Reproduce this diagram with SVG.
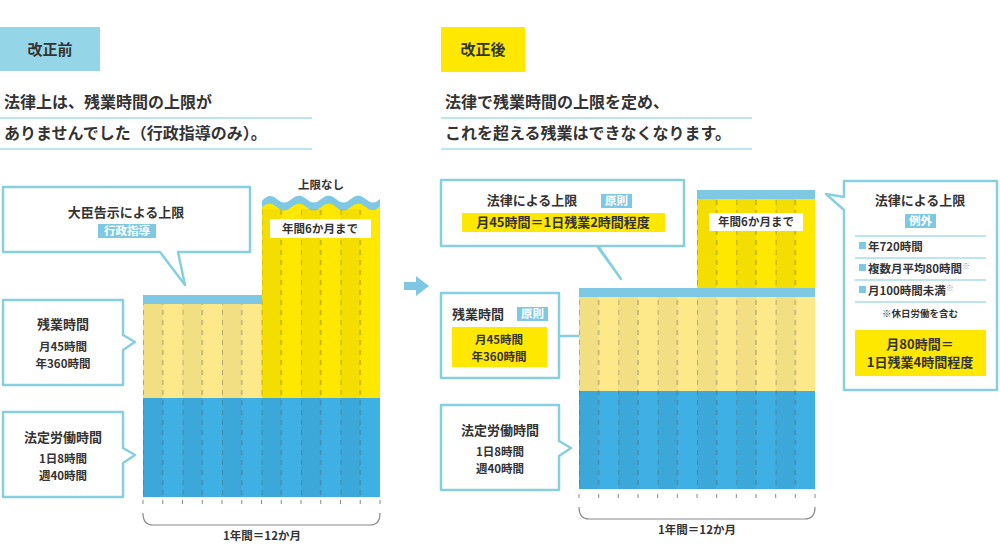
<svg xmlns="http://www.w3.org/2000/svg" width="1000" height="548" viewBox="0 0 1000 548">
<style>
text{font-family:"Noto Sans CJK JP","Noto Sans",sans-serif;font-weight:bold;fill:#333}
.c{text-anchor:middle}
.t{font-size:13px}
.s{font-size:11.5px}
.call{fill:#fff;stroke:#86cfdf;stroke-width:2.5;stroke-linejoin:round}
.tag{fill:#7fc8e4}
.tagt{fill:#fff;font-size:11.5px;text-anchor:middle}
.yb{fill:#ffe800}
.ul{stroke:#a7dcea;stroke-width:1.5}
.sep{stroke:#a7dcea;stroke-width:1.5}
.tick{stroke:#888;stroke-width:1}
.brace{fill:none;stroke:#888;stroke-width:1.2}
</style>
<defs>
<pattern id="pL" x="143" y="0" width="39.5" height="10" patternUnits="userSpaceOnUse">
<rect x="0" y="0" width="19.75" height="10" fill="#000" opacity="0.045"/>
<line x1="19.75" y1="0" x2="19.75" y2="5" stroke="#555" stroke-opacity="0.55"/>
<line x1="0.2" y1="0" x2="0.2" y2="5" stroke="#555" stroke-opacity="0.55"/>
</pattern>
<pattern id="pR" x="579" y="0" width="39.33" height="10" patternUnits="userSpaceOnUse">
<rect x="0" y="0" width="19.67" height="10" fill="#000" opacity="0.045"/>
<line x1="19.67" y1="0" x2="19.67" y2="5" stroke="#555" stroke-opacity="0.55"/>
<line x1="0.2" y1="0" x2="0.2" y2="5" stroke="#555" stroke-opacity="0.55"/>
</pattern>
</defs>
<rect width="1000" height="548" fill="#fff"/>

<!-- headers -->
<g id="before-header">
<rect x="0" y="27" width="100" height="44" fill="#94d5e8"/>
<text x="50" y="55" class="c" font-size="15">改正前</text>
<text x="4" y="108" font-size="16">法律上は、残業時間の上限が</text>
<line x1="0" y1="118" x2="312" y2="118" class="ul"/>
<text x="4" y="139" font-size="16">ありませんでした（行政指導のみ）。</text>
<line x1="0" y1="149" x2="312" y2="149" class="ul"/>
</g>
<g id="after-header">
<rect x="441" y="27" width="84" height="45" fill="#ffe800"/>
<text x="483" y="55" class="c" font-size="15">改正後</text>
<text x="445" y="108" font-size="16">法律で残業時間の上限を定め、</text>
<line x1="441" y1="118" x2="752" y2="118" class="ul"/>
<text x="445" y="139" font-size="16">これを超える残業はできなくなります。</text>
<line x1="441" y1="149" x2="752" y2="149" class="ul"/>
</g>

<!-- left chart -->
<g id="left-chart">
<rect x="143" y="398" width="237" height="99" fill="#3fb0e3"/>
<rect x="143" y="304" width="119" height="94" fill="#fde98a"/>
<rect x="143" y="295" width="119" height="9" fill="#7fc8e4"/>
<path d="M262 207 Q269.4 197 276.8 204 T291.6 204 T306.4 204 T321.2 204 T336 204 T350.8 204 T365.6 204 T380 204 L380 398 L262 398 Z" fill="#ffe800"/>
<path d="M262 201 Q269.4 192 276.8 199 T291.6 199 T306.4 199 T321.2 199 T336 199 T350.8 199 T365.6 199 T380 199 L380 206 Q372.6 214 365.6 207 T350.8 207 T336 207 T321.2 207 T306.4 207 T291.6 207 T276.8 207 T262 207 Z" fill="#7fc8e4"/>
<rect x="143" y="304" width="119" height="193" fill="url(#pL)"/>
<rect x="262" y="209" width="118" height="288" fill="url(#pL)"/>
<rect x="270" y="219" width="101" height="19" fill="#fff"/>
<text x="320" y="233" class="c s">年間6か月まで</text>
<text x="321" y="189" class="c s">上限なし</text>
<g class="tick">
<line x1="143" y1="500" x2="143" y2="504"/><line x1="162.75" y1="500" x2="162.75" y2="504"/><line x1="182.5" y1="500" x2="182.5" y2="504"/><line x1="202.25" y1="500" x2="202.25" y2="504"/><line x1="222" y1="500" x2="222" y2="504"/><line x1="241.75" y1="500" x2="241.75" y2="504"/><line x1="261.5" y1="500" x2="261.5" y2="504"/><line x1="281.25" y1="500" x2="281.25" y2="504"/><line x1="301" y1="500" x2="301" y2="504"/><line x1="320.75" y1="500" x2="320.75" y2="504"/><line x1="340.5" y1="500" x2="340.5" y2="504"/><line x1="360.25" y1="500" x2="360.25" y2="504"/><line x1="380" y1="500" x2="380" y2="504"/>
</g>
<path class="brace" d="M143 513 Q143 525 153 525 L370 525 Q380 525 380 513"/>
<text x="262" y="540" class="c s">1年間＝12か月</text>
</g>

<g id="left-callout-kokuji">
<path class="call" d="M3 187 H250 V252 H178 L185 285 L160 252 H3 Z"/>
<text x="126" y="217" class="c t">大臣告示による上限</text>
<rect x="98" y="224" width="58" height="14" class="tag"/>
<text x="127" y="235" class="tagt">行政指導</text>
</g>
<g id="left-callout-zangyo">
<path class="call" d="M3 300 H123 V335 L135 342 L123 350 V385 H3 Z"/>
<text x="63" y="329" class="c t">残業時間</text>
<text x="63" y="351" class="c s">月45時間</text>
<text x="63" y="368" class="c s">年360時間</text>
</g>
<g id="left-callout-hotei">
<path class="call" d="M3 412 H123 V448 L135 455 L123 463 V497 H3 Z"/>
<text x="63" y="442" class="c t">法定労働時間</text>
<text x="63" y="463" class="c s">1日8時間</text>
<text x="63" y="480" class="c s">週40時間</text>
</g>

<!-- arrow -->
<g id="connectors">
<path d="M404 282 H416 V276 L429 286 L416 296 V290 H404 Z" fill="#7fc8e4"/>
<line x1="559" y1="336" x2="584" y2="336" stroke="#86cfdf" stroke-width="2.5"/>
</g>

<!-- right chart -->
<g id="right-chart">
<rect x="579" y="391" width="236" height="98" fill="#3fb0e3"/>
<rect x="579" y="297" width="236" height="94" fill="#fde98a"/>
<rect x="579" y="288" width="236" height="9" fill="#7fc8e4"/>
<rect x="697" y="199" width="118" height="89" fill="#ffe800"/>
<rect x="697" y="190" width="118" height="9" fill="#7fc8e4"/>
<rect x="579" y="297" width="236" height="192" fill="url(#pR)"/>
<rect x="697" y="199" width="118" height="89" fill="url(#pR)"/>
<rect x="709" y="213" width="94" height="18" fill="#fff"/>
<text x="756" y="226" class="c s">年間6か月まで</text>
<g class="tick">
<line x1="579" y1="494" x2="579" y2="498"/><line x1="598.7" y1="494" x2="598.7" y2="498"/><line x1="618.3" y1="494" x2="618.3" y2="498"/><line x1="638" y1="494" x2="638" y2="498"/><line x1="657.7" y1="494" x2="657.7" y2="498"/><line x1="677.3" y1="494" x2="677.3" y2="498"/><line x1="697" y1="494" x2="697" y2="498"/><line x1="716.7" y1="494" x2="716.7" y2="498"/><line x1="736.3" y1="494" x2="736.3" y2="498"/><line x1="756" y1="494" x2="756" y2="498"/><line x1="775.7" y1="494" x2="775.7" y2="498"/><line x1="795.3" y1="494" x2="795.3" y2="498"/><line x1="815" y1="494" x2="815" y2="498"/>
</g>
<path class="brace" d="M579 507 Q579 519 589 519 L805 519 Q815 519 815 507"/>
<text x="697" y="534" class="c s">1年間＝12か月</text>
</g>

<g id="right-callout-gensoku">
<path class="call" d="M441 180 H684 V246 H597 L621 279 L598 246 H441 Z" />
<text x="532" y="205" class="c t">法律による上限</text>
<rect x="601" y="194" width="31" height="14" class="tag"/>
<text x="616.5" y="205" class="tagt">原則</text>
<rect x="462" y="213" width="203" height="19" class="yb"/>
<text x="563" y="227" class="c t">月45時間＝1日残業2時間程度</text>
</g>
<g id="right-callout-zangyo">
<path class="call" d="M441 293 H559 V378 H441 Z"/>
<text x="452" y="319" class="t">残業時間</text>
<rect x="517" y="307" width="31" height="14" class="tag"/>
<text x="532.5" y="318" class="tagt">原則</text>
<rect x="452" y="327" width="95" height="40" class="yb"/>
<text x="499" y="344" class="c s">月45時間</text>
<text x="499" y="361" class="c s">年360時間</text>
</g>
<g id="right-callout-hotei">
<path class="call" d="M441 405 H559 V441 L571 448 L559 456 V490 H441 Z"/>
<text x="500" y="435" class="c t">法定労働時間</text>
<text x="500" y="456" class="c s">1日8時間</text>
<text x="500" y="473" class="c s">週40時間</text>
</g>
<g id="right-callout-reigai">
<path class="call" d="M844 181 H997 V390 H844 V210 L826 194 L844 197 Z"/>
<text x="920" y="205" class="c t">法律による上限</text>
<rect x="905" y="214" width="31" height="14" class="tag"/>
<text x="920.5" y="225" class="tagt">例外</text>
<line x1="855" y1="236" x2="986" y2="236" class="sep"/>
<rect x="859" y="242" width="7" height="7" class="tag"/>
<text x="868" y="251" class="s">年720時間</text>
<line x1="855" y1="258" x2="986" y2="258" class="sep"/>
<rect x="859" y="264" width="7" height="7" class="tag"/>
<text x="868" y="273" class="s">複数月平均80時間<tspan fill="#999" font-size="8" dy="-4">※</tspan></text>
<line x1="855" y1="280" x2="986" y2="280" class="sep"/>
<rect x="859" y="286" width="7" height="7" class="tag"/>
<text x="868" y="295" class="s">月100時間未満<tspan fill="#999" font-size="8" dy="-4">※</tspan></text>
<line x1="855" y1="302" x2="986" y2="302" class="sep"/>
<text x="920" y="317" class="c" font-size="9.5">※休日労働を含む</text>
<rect x="855" y="330" width="131" height="46" class="yb"/>
<text x="920" y="349" class="c t">月80時間＝</text>
<text x="920" y="367" class="c t">1日残業4時間程度</text>
</g>
</svg>
